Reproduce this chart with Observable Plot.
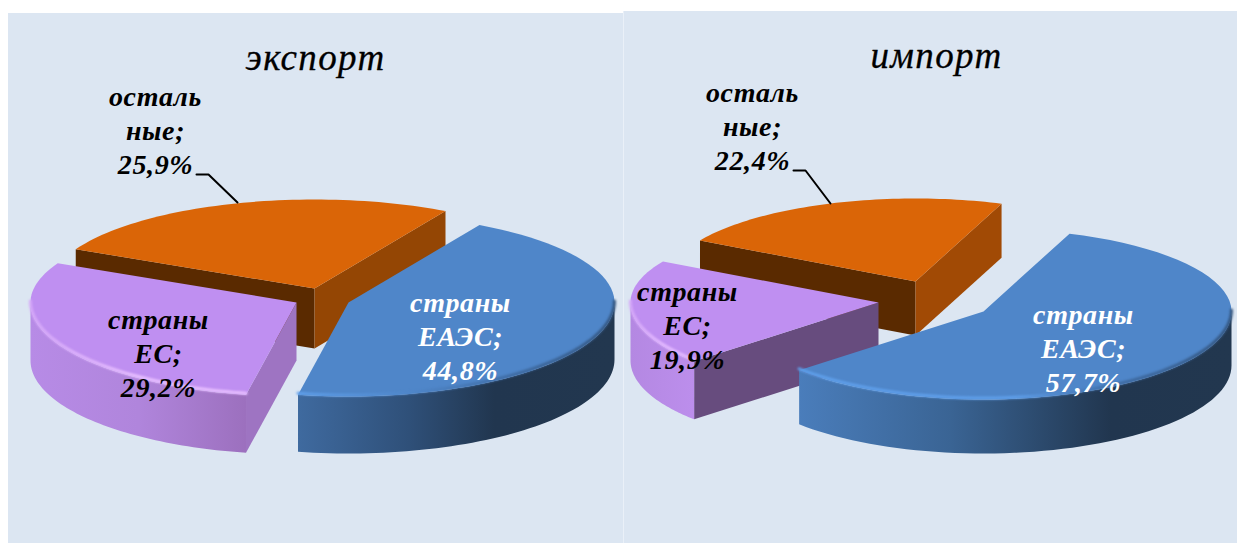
<!DOCTYPE html>
<html lang="ru"><head><meta charset="utf-8">
<script src="https://cdn.jsdelivr.net/npm/d3@7"></script>
<script src="https://cdn.jsdelivr.net/npm/@observablehq/plot@0.6"></script>
<style>
html,body{margin:0;padding:0;background:#fff;overflow:hidden}
svg{display:block}
.ttl text{letter-spacing:1.4px}
.lbl text{letter-spacing:.6px}
</style></head><body>
<script>
const categories = ["страны\nЕАЭС", "страны\nЕС", "осталь\nные"];
const exportValues = [44.8, 29.2, 25.9];
const importValues = [57.7, 19.9, 22.4];
const titles = ["экспорт", "импорт"];

// layout of the two 3D pies, in page pixels
const pies = [
  {title: titles[0], values: exportValues, rotate: 29.5, rx: 266, ryBack: 89, ryFront: 94,
   panel: [8, 623, 13, 543], titleAt: [315, 58],
   tips: [[348,302],[296,302],[314,288]], depth: [57,58,60],
   labels: [[460,335],[158,352],[155,129]], leader: [[196,174],[208,174],[237,202]],
   faces: {0:{rim:"gBlueL",bevel:"bBlueL"},1:{rim:"gPurpleL",bevel:"bPurpleL",start:"#9E74C2"},2:{start:"#5A2A00",end:"#944604"}}},
  {title: titles[1], values: importValues, rotate: 20.3, rx: 248, ryBack: 83, ryFront: 88,
   panel: [624, 1237, 11, 543], titleAt: [936, 56],
   tips: [[983,311],[878,302],[915,281]], depth: [54,58,54],
   labels: [[1083,347],[687,324],[752,125]], leader: [[793,170],[805,170],[830,203]],
   faces: {0:{rim:"gBlueR",bevel:"bBlueR"},1:{rim:"gPurpleR",bevel:"bPurpleR",start:"#674C7E"},2:{start:"#5A2A00",end:"#A14A05"}}}
];
const seam = [623, 624, 11, 543];
const topColors = ["#4F86C9", "#BF8FF1", "#DA6507"];
const labelColors = ["#fff", "#000", "#000"];
const gradients = {
  gBlueL:[[0,"#3F6A9F"],[.35,"#2F5079"],[.62,"#21364F"],[1,"#22374F"]],
  gBlueR:[[0,"#4A7DBB"],[.35,"#3A6494"],[.72,"#21364F"],[1,"#22374F"]],
  gPurpleL:[[0,"#B78BE6"],[.5,"#B085DC"],[1,"#9C70BE"]],
  gPurpleR:[[0,"#B488E2"],[1,"#BC8EEC"]],
  bBlueL:[[0,"#5F9FEA"],[.35,"#4F86C9"],[.65,"#3F6CA4"],[1,"#33557F"]],
  bBlueR:[[0,"#5F9FEA"],[.5,"#5F9FEA"],[.72,"#3F6CA4"],[1,"#33557F"]],
  bPurpleL:[[0,"#D5A8F8"],[.5,"#E8C0FF"],[1,"#E8C0FF"]],
  bPurpleR:[[0,"#D5A8F8"],[.5,"#E4BAFF"],[1,"#E4BAFF"]]
};

const rad = a => a * Math.PI / 180;
function at(p, tip, a, r = 1, dz = 0) {
  const c = Math.cos(rad(a));
  return {x: tip[0] + r * p.rx * Math.sin(rad(a)),
          y: tip[1] - r * c * (c > 0 ? p.ryBack : p.ryFront) + dz};
}
const arc = (p, tip, a0, a1, dz = 0) =>
  d3.range(0, 61).map(i => at(p, tip, a0 + (a1 - a0) * i / 60, 1, dz));
const poly = (pts, fill) => Plot.line(pts, {x: "x", y: "y", fill, stroke: "none", curve: "linear"});

const marks = [];
// gradient definitions
marks.push(() => {
  const defs = d3.create("svg:defs");
  for (const [id, stops] of Object.entries(gradients)) {
    const g = defs.append("linearGradient").attr("id", id);
    for (const [o, c] of stops) g.append("stop").attr("offset", o).attr("stop-color", c);
  }
  return defs.node();
});

const rectOf = (r, fill) => Plot.rect([r], {x1: d => d[0], x2: d => d[1], y1: d => d[2], y2: d => d[3], fill});
marks.push(rectOf(seam, "#EAF0F8"));
for (const p of pies) marks.push(rectOf(p.panel, "#DCE6F2"));

for (const p of pies) {
  const total = d3.sum(p.values);
  let a = p.rotate;
  const slices = p.values.map((v, i) => {
    const s = {i, v, a0: a, a1: a + v / total * 360};
    a = s.a1; return s;
  });
  // painter's order: back slice first
  for (const s of [slices[2], slices[1], slices[0]]) {
    const tip = p.tips[s.i], d = p.depth[s.i], f = p.faces[s.i];
    if (Math.sin(rad(s.a0)) < 0 && f.start) {
      const e = at(p, tip, s.a0);
      marks.push(poly([{x: tip[0], y: tip[1]}, e, {x: e.x, y: e.y + d}, {x: tip[0], y: tip[1] + d}], f.start));
    }
    if (Math.sin(rad(s.a1)) > 0 && f.end) {
      const e = at(p, tip, s.a1);
      marks.push(poly([{x: tip[0], y: tip[1]}, e, {x: e.x, y: e.y + d}, {x: tip[0], y: tip[1] + d}], f.end));
    }
    const r0 = Math.max(s.a0, 90), r1 = Math.min(s.a1, 270);
    if (f.rim && r1 > r0) {
      marks.push(poly([...arc(p, tip, r0, r1), ...arc(p, tip, r1, r0, d)], `url(#${f.rim})`));
    }
    marks.push(poly([{x: tip[0], y: tip[1]}, ...arc(p, tip, s.a0, s.a1)], topColors[s.i]));
    if (f.bevel && r1 > r0) {
      marks.push(Plot.line(arc(p, tip, r0, r1, -1.5), {x: "x", y: "y", stroke: `url(#${f.bevel})`, strokeWidth: 3, curve: "linear", imageFilter: "blur(0.8px)"}));
    }
  }
  marks.push(Plot.line(p.leader, {x: d => d[0], y: d => d[1], stroke: "#000", strokeWidth: 2, curve: "linear"}));
  marks.push(Plot.text([p.title], {
    x: () => p.titleAt[0], y: () => p.titleAt[1], text: d => d,
    fontFamily: "Liberation Serif", fontStyle: "italic", fontSize: 37, fill: "#000", stroke: "#000", strokeWidth: 0.3, className: "ttl"
  }));
  marks.push(Plot.text(slices, {
    x: s => p.labels[s.i][0], y: s => p.labels[s.i][1],
    text: s => `${categories[s.i]};\n${s.v.toFixed(1).replace(".", ",")}%`,
    fill: s => labelColors[s.i], lineHeight: 34 / 28, lineAnchor: "middle", textAnchor: "middle",
    fontFamily: "Liberation Serif", fontStyle: "italic", fontWeight: "bold", fontSize: 28, className: "lbl"
  }));
}

const chart = Plot.plot({
  width: 1237, height: 543, margin: 0,
  style: {background: "#fff", overflow: "hidden"},
  x: {domain: [0, 1237], range: [0, 1237], axis: null},
  y: {domain: [0, 543], range: [0, 543], axis: null},
  color: {type: "identity"},
  marks
});
document.body.appendChild(chart);
</script></body></html>
